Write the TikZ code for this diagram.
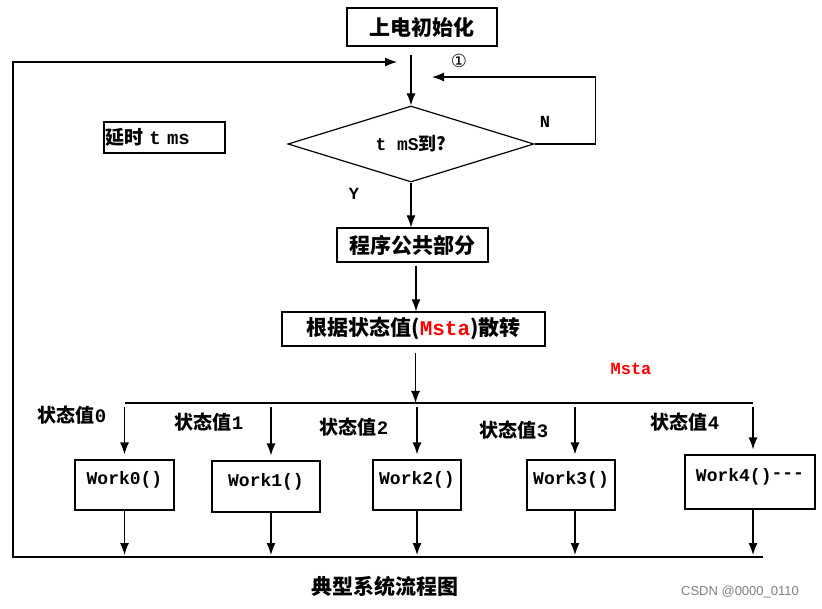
\documentclass[tikz,border=0pt]{standalone}
\usepackage{fontspec}
\setmainfont{Noto Sans CJK SC}
\newfontfamily\lat{Liberation Mono}
\newfontfamily\sym{DejaVu Sans}
\newfontfamily\wm{Liberation Sans}
\usetikzlibrary{arrows.meta,shapes.geometric,calc}
\begin{document}
\begin{tikzpicture}[x=1pt,y=-1pt,
  ln/.style={line width=1.2pt},
  arr/.style={line width=1.2pt,-{Latex[length=12pt,width=9pt]}},
  box/.style={draw,line width=1.2pt,inner sep=0pt,font=\fontsize{21}{21}\selectfont\bfseries},
  workbox/.style={draw,line width=1.2pt,inner sep=0pt,text height=13pt,text depth=14pt,font=\fontsize{18}{18}\selectfont\bfseries\lat},
  lbl/.style={inner sep=0pt,font=\fontsize{19}{19}\selectfont\bfseries},
  latl/.style={inner sep=0pt,font=\fontsize{17}{17}\selectfont\bfseries\lat}]
\useasboundingbox (0,0) rectangle (822,609);
% boxes
\node[box,minimum width=150pt,minimum height=38pt] (init) at (422,27) {上电初始化};
\node[box,minimum width=121pt,minimum height=31pt,text width=119pt,align=left,font=\fontsize{19}{19}\selectfont\bfseries] (delay) at (164.5,137.5) {延时{\lat\ t ms}};
\node[draw,diamond,aspect=3.4,line width=1.2pt,minimum width=246pt,minimum height=76pt,inner sep=0pt,font=\fontsize{18}{18}\selectfont\bfseries] (dia) at (411,144) {{\lat t mS}到?};
\node[box,minimum width=151pt,minimum height=34pt] (common) at (412.5,245) {程序公共部分};
\node[box,minimum width=263pt,minimum height=34pt] (disp) at (413.5,329) {根据状态值({\lat\color{red}Msta})散转};
\node[workbox,minimum width=99pt,minimum height=50pt] (w0) at (124.5,485) {Work0()};
\node[workbox,minimum width=108pt,minimum height=51pt] (w1) at (266,486.5) {Work1()};
\node[workbox,minimum width=88pt,minimum height=50pt] (w2) at (417,485) {Work2()};
\node[workbox,minimum width=88pt,minimum height=50pt] (w3) at (571,485) {Work3()};
\node[workbox,minimum width=130pt,minimum height=54pt] (w4) at (750,482) {Work4()\raisebox{3pt}{-{}-{}-}};
% labels
\node[latl] (ylab) at (354,194) {Y};
\node[latl] (nlab) at (545,122) {N};
\node[inner sep=0pt,font=\fontsize{18}{18}\selectfont\sym] (one) at (459,61) {①};
\node[latl,text=red] (msta) at (631,369) {Msta};
\node[lbl] (s0) at (72,415) {状态值{\lat 0}};
\node[lbl] (s1) at (209,422) {状态值{\lat 1}};
\node[lbl] (s2) at (354,427) {状态值{\lat 2}};
\node[lbl] (s3) at (514,430) {状态值{\lat 3}};
\node[lbl] (s4) at (685,422) {状态值{\lat 4}};
\node[inner sep=0pt,font=\fontsize{21}{21}\selectfont\bfseries] (title) at (385,586) {典型系统流程图};
\node[inner sep=0pt,font=\fontsize{13}{13}\selectfont\wm,text=gray] (wmark) at (740,592) {CSDN @0000\_0110};
% coordinates
\coordinate (top) at (411,55);
\coordinate (lend) at (397,62);
\coordinate (tl) at (13,62);
\coordinate (bl) at (13,557);
\coordinate (br) at (763,557);
\coordinate (nend) at (432,77);
\coordinate (bus0) at (125,403);
\coordinate (bus4) at (753,403);
\coordinate (c1) at ($(common.south)+(3.5,3)$);
\coordinate (d1) at ($(disp.south)+(2,6)$);
% connectors
\draw[arr] (top) -- (dia.north);
\draw[arr] (br) -- (bl) -- (tl) -- (lend);
\draw[arr] (dia.east) -- ++(61,0) |- (nend);
\draw[arr] (dia.south) -- (dia.south |- common.north);
\draw[arr] (c1) -- (c1 |- disp.north);
\draw[arr] (d1) -- (d1 |- bus0);
\draw[ln] (bus0) -- (bus4);
\foreach \w/\dx in {w0/0,w1/5,w2/0,w3/4,w4/3}{
  \coordinate (t\w) at ($(\w.north |- bus0)+(\dx,4)$);
  \coordinate (e\w) at ($(\w.north)+(\dx,-5)$);
  \coordinate (s\w) at ($(\w.south)+(\dx,0)$);
  \coordinate (f\w) at ($(\w.south |- bl)+(\dx,-2)$);
  \draw[arr] (t\w) -- (e\w);
  \draw[arr] (s\w) -- (f\w);
}
\end{tikzpicture}
\end{document}
